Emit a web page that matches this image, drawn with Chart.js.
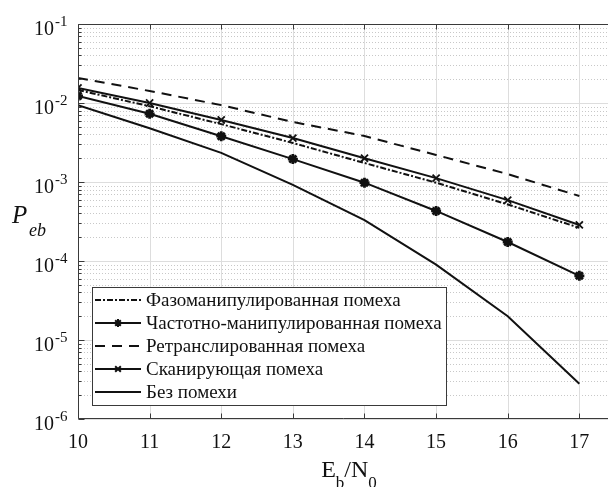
<!DOCTYPE html>
<html>
<head>
<meta charset="utf-8">
<script src="https://cdn.jsdelivr.net/npm/chart.js@4/dist/chart.umd.min.js"></script>
<style>
  html, body { margin: 0; padding: 0; background: #fff; }
  canvas { display: block; }
</style>
</head>
<body>
<canvas id="ber" width="608" height="487"></canvas>
<script>
// Eb/N0 grid points (dB)
const ebN0 = [10, 11, 12, 13, 14, 15, 16, 17];

// Bit error probability for each jamming type
const phaseJam   = [1.46e-2, 9.1e-3, 5.4e-3, 3.12e-3, 1.74e-3, 9.8e-4, 5.2e-4, 2.63e-4];
const freqJam    = [1.23e-2, 7.3e-3, 3.8e-3, 1.95e-3, 9.8e-4, 4.3e-4, 1.74e-4, 6.5e-5];
const repeatJam  = [2.07e-2, 1.42e-2, 9.4e-3, 5.75e-3, 3.82e-3, 2.2e-3, 1.26e-3, 6.65e-4];
const sweepJam   = [1.55e-2, 1.0e-2, 6.1e-3, 3.6e-3, 2.0e-3, 1.12e-3, 5.9e-4, 2.86e-4];
const noJam      = [9.4e-3, 4.8e-3, 2.34e-3, 9.2e-4, 3.3e-4, 9.0e-5, 2.0e-5, 2.8e-6];

const seriesNames = [
  'Фазоманипулированная помеха',
  'Частотно-манипулированная помеха',
  'Ретранслированная помеха',
  'Сканирующая помеха',
  'Без помехи'
];

// Axis tick labels
const xTickValues = [10, 11, 12, 13, 14, 15, 16, 17];
const yTickExponents = [-6, -5, -4, -3, -2, -1];

const SERIF = '"Liberation Serif", "DejaVu Serif", serif';
const INK = '#111';

function pts(arr) { return ebN0.map((x, i) => ({ x: x, y: arr[i] })); }

function lineSet(label, data, dash, style) {
  return {
    label: label,
    data: pts(data),
    borderColor: INK,
    backgroundColor: INK,
    borderWidth: 2,
    borderDash: dash,
    pointStyle: style || false,
    pointRadius: style ? 5 : 0,
    pointBorderWidth: style === 'star' ? 2.8 : 1.8,
    pointBorderColor: INK,
    pointBackgroundColor: INK,
    tension: 0,
    fill: false
  };
}

const datasets = [
  lineSet(seriesNames[0], phaseJam, [6, 2, 2, 2], null),
  lineSet(seriesNames[1], freqJam, [], 'star'),
  lineSet(seriesNames[2], repeatJam, [10, 7], null),
  lineSet(seriesNames[3], sweepJam, [], 'crossRot'),
  lineSet(seriesNames[4], noJam, [], null)
];

// Grid, box, tick marks, tick labels, axis titles and the legend box
const decorations = {
  id: 'decorations',
  beforeDatasetsDraw(chart) {
    const { ctx, chartArea: a, scales: { x, y } } = chart;
    ctx.save();
    // minor horizontal grid (2..9 x 10^k), dotted
    ctx.strokeStyle = '#c8c8c8';
    ctx.lineWidth = 1;
    ctx.setLineDash([1, 2]);
    for (let e = -6; e < -1; e++) {
      for (let m = 2; m <= 9; m++) {
        const v = m * Math.pow(10, e);
        const py = Math.round(y.getPixelForValue(v)) + 0.5;
        ctx.beginPath(); ctx.moveTo(a.left, py); ctx.lineTo(a.right, py); ctx.stroke();
      }
    }
    ctx.setLineDash([]);
    // major horizontal grid
    ctx.strokeStyle = '#dddddd';
    yTickExponents.forEach(e => {
      const py = Math.round(y.getPixelForValue(Math.pow(10, e))) + 0.5;
      ctx.beginPath(); ctx.moveTo(a.left, py); ctx.lineTo(a.right, py); ctx.stroke();
    });
    // vertical grid
    xTickValues.forEach(v => {
      const px = Math.round(x.getPixelForValue(v)) + 0.5;
      ctx.beginPath(); ctx.moveTo(px, a.top); ctx.lineTo(px, a.bottom); ctx.stroke();
    });
    ctx.restore();
  },
  afterDatasetsDraw(chart) {
    const { ctx, chartArea: a, scales: { x, y } } = chart;
    ctx.save();
    const L = Math.round(a.left) + 0.5, T = Math.round(a.top) + 0.5, B = Math.round(a.bottom) - 0.5;
    // box: left, top and bottom edges
    ctx.strokeStyle = '#3a3a3a';
    ctx.lineWidth = 1;
    ctx.beginPath();
    ctx.moveTo(a.right, T); ctx.lineTo(L, T); ctx.lineTo(L, B); ctx.lineTo(a.right, B);
    ctx.stroke();
    // x tick marks on bottom and top
    xTickValues.forEach(v => {
      const px = Math.round(x.getPixelForValue(v)) + 0.5;
      ctx.beginPath();
      ctx.moveTo(px, B); ctx.lineTo(px, B - 5);
      ctx.moveTo(px, T); ctx.lineTo(px, T + 5);
      ctx.stroke();
    });
    // y tick marks on the left
    for (let e = -6; e <= -1; e++) {
      const py = Math.round(y.getPixelForValue(Math.pow(10, e))) + 0.5;
      ctx.beginPath(); ctx.moveTo(L, py); ctx.lineTo(L + 6, py); ctx.stroke();
      if (e === -1) continue;
      for (let m = 2; m <= 9; m++) {
        const q = Math.round(y.getPixelForValue(m * Math.pow(10, e))) + 0.5;
        ctx.beginPath(); ctx.moveTo(L, q); ctx.lineTo(L + 3, q); ctx.stroke();
      }
    }
    // x tick labels
    ctx.fillStyle = INK;
    ctx.font = '20px ' + SERIF;
    ctx.textAlign = 'center';
    ctx.textBaseline = 'alphabetic';
    xTickValues.forEach(v => {
      ctx.fillText(String(v), x.getPixelForValue(v), 448);
    });
    // y tick labels: 10 with a superscript exponent
    yTickExponents.forEach(e => {
      const py = y.getPixelForValue(Math.pow(10, e));
      ctx.font = '20px ' + SERIF;
      ctx.textAlign = 'right';
      ctx.fillText('10', 54, py + 11);
      ctx.font = '15px ' + SERIF;
      ctx.textAlign = 'left';
      ctx.fillText(String(e), 55, py + 2);
    });
    // y axis title: P_eb
    ctx.textAlign = 'left';
    ctx.font = 'italic 25px ' + SERIF;
    ctx.fillText('P', 12, 223);
    ctx.font = 'italic 18px ' + SERIF;
    ctx.fillText('eb', 29, 236);
    // x axis title: E_b/N_0
    const big = '24px ' + SERIF, small = '17px ' + SERIF;
    ctx.font = big; const wE = ctx.measureText('E').width, wN = ctx.measureText('/N').width;
    ctx.font = small; const wb = ctx.measureText('b').width, w0 = ctx.measureText('0').width;
    let cx = 349 - (wE + wb + wN + w0) / 2;
    ctx.font = big; ctx.fillText('E', cx, 477); cx += wE;
    ctx.font = small; ctx.fillText('b', cx, 488); cx += wb;
    ctx.font = big; ctx.fillText('/N', cx, 477); cx += wN;
    ctx.font = small; ctx.fillText('0', cx, 488);

    // legend box
    const lx = 92.5, ly = 287.5, lw = 354, lh = 118;
    ctx.fillStyle = '#fff';
    ctx.fillRect(lx, ly, lw, lh);
    ctx.strokeStyle = '#3a3a3a';
    ctx.lineWidth = 1;
    ctx.strokeRect(lx, ly, lw, lh);
    chart.data.datasets.forEach((ds, i) => {
      const ry = 300 + i * 23;
      ctx.strokeStyle = ds.borderColor;
      ctx.lineWidth = ds.borderWidth;
      ctx.setLineDash(ds.borderDash || []);
      ctx.beginPath(); ctx.moveTo(95, ry); ctx.lineTo(141, ry); ctx.stroke();
      ctx.setLineDash([]);
      if (ds.pointStyle) {
        Chart.helpers.drawPoint(ctx, {
          pointStyle: ds.pointStyle, radius: 4, rotation: 0,
          borderWidth: ds.pointBorderWidth
        }, 118, ry);
      }
      ctx.fillStyle = INK;
      ctx.font = '19px ' + SERIF;
      ctx.textAlign = 'left';
      ctx.textBaseline = 'middle';
      ctx.fillText(ds.label, 146, ry + 1);
    });
    ctx.restore();
  }
};

new Chart(document.getElementById('ber'), {
  type: 'line',
  data: { datasets: datasets },
  options: {
    responsive: false,
    animation: false,
    devicePixelRatio: 1,
    layout: { autoPadding: false, padding: { left: 78, top: 24, right: 0, bottom: 68 } },
    plugins: { legend: { display: false }, tooltip: { enabled: false } },
    scales: {
      x: { type: 'linear', min: 10, max: 17.4, display: false },
      y: { type: 'logarithmic', min: 1e-6, max: 1e-1, display: false }
    }
  },
  plugins: [decorations]
});
</script>
</body>
</html>
